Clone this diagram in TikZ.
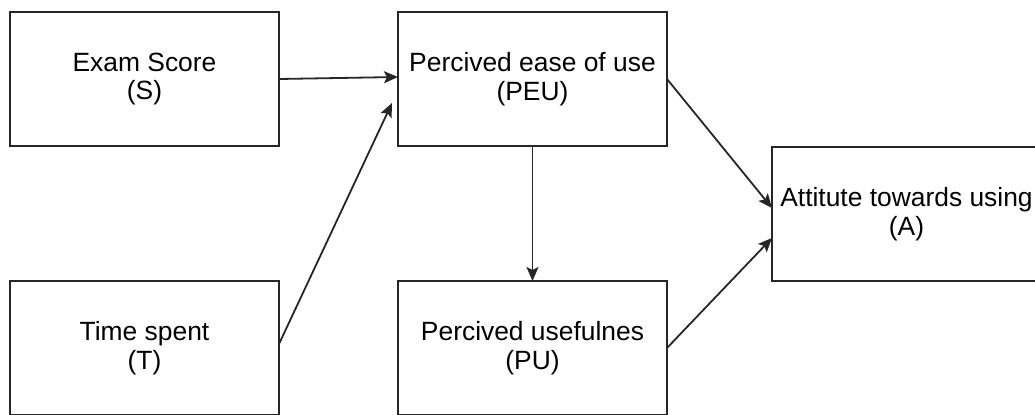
\documentclass[tikz,border=0pt]{standalone}
\usepackage{fontspec}
\setmainfont{Liberation Sans}
\usetikzlibrary{positioning}
\usetikzlibrary{arrows.meta}
\begin{document}
\begin{tikzpicture}[font=\fontsize{13.2}{14.2}\selectfont,
      var style/.style={rectangle,draw=black!85,line width=1pt,align=center,
        minimum width=134.5pt,minimum height=67pt,inner sep=0pt,outer sep=0pt},
      link/.style={-{Stealth[length=7pt,width=6pt,inset=1.5pt]},line width=0.9pt,draw=black!85}
      ]
      \useasboundingbox (0,0) rectangle (517.5pt,207pt);
      \node[var style] (score) at (72.25pt,167.5pt) {Exam Score\\(S)};
      \node[var style,below=67.5pt of score] (time) {Time spent\\(T)};
      \node[var style,right=59.5pt of score] (peu) {Percived ease of use\\(PEU)};
      \node[var style,below=67.5pt of peu] (pu) {Percived usefulnes\\(PU)};
      \node[var style,below right=0.5pt and 52.5pt of peu.south east] (att) {Attitute towards using\\(A)};
      \draw[link] (score.east) -- ([yshift=1pt]peu.west);
      \draw[link] ([yshift=2pt]time.east) -- ([shift={(-3pt,-12pt)}]peu.west);
      \draw[link] (peu.south) -- (pu.north);
      \draw[link] (peu.east) -- ([yshift=3pt]att.west);
      \draw[link] (pu.east) -- ([yshift=-12pt]att.west);
    \end{tikzpicture}
\end{document}
